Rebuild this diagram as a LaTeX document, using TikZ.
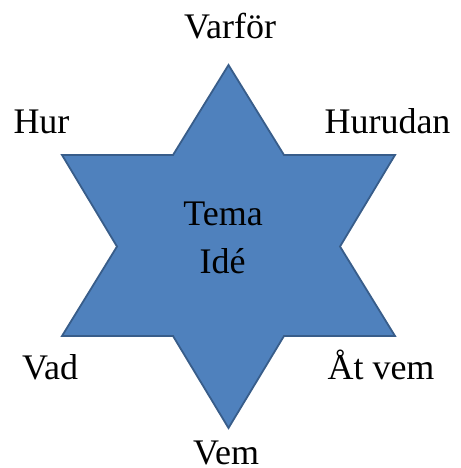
\documentclass[tikz,border=0pt]{standalone}
\usepackage{fontspec}
\setmainfont{Liberation Serif}
\definecolor{starfill}{HTML}{4F81BD}
\definecolor{starline}{HTML}{385D8A}
\begin{document}
\begin{tikzpicture}[x=1pt,y=-1pt,
  lbl/.style={anchor=base,inner sep=0pt,font=\fontsize{36}{48}\selectfont},
  starshape/.style={fill=starfill,draw=starline,line width=1.8pt,line join=miter}]
\useasboundingbox (0,0) rectangle (460,468);
\coordinate (t) at (228.5,65);
\coordinate (ti1) at (284,155);
\coordinate (ur) at (395,155);
\coordinate (ri) at (340,246.5);
\coordinate (lr) at (395,336);
\coordinate (bi1) at (284,336);
\coordinate (b) at (228.5,428);
\coordinate (bi2) at (173,336);
\coordinate (ll) at (62,336);
\coordinate (li) at (117,246.5);
\coordinate (ul) at (62,155);
\coordinate (ti2) at (173,155);
\draw[starshape] (t) -- (ti1) -- (ur) -- (ri) -- (lr) -- (bi1) -- (b) -- (bi2) -- (ll) -- (li) -- (ul) -- (ti2) -- cycle;
\node[lbl] (varfor) at (230,39) {Varför};
\node[lbl] (hur) at (41.5,133) {Hur};
\node[lbl] (hurudan) at (387.5,133) {Hurudan};
\node[lbl] (vad) at (50,379) {Vad};
\node[lbl] (atvem) at (381,379) {Åt vem};
\node[lbl] (vem) at (226,464) {Vem};
\node[lbl] (tema) at (223,225) {Tema};
\node[lbl] (ide) at (222.5,273) {Idé};
\end{tikzpicture}
\end{document}
